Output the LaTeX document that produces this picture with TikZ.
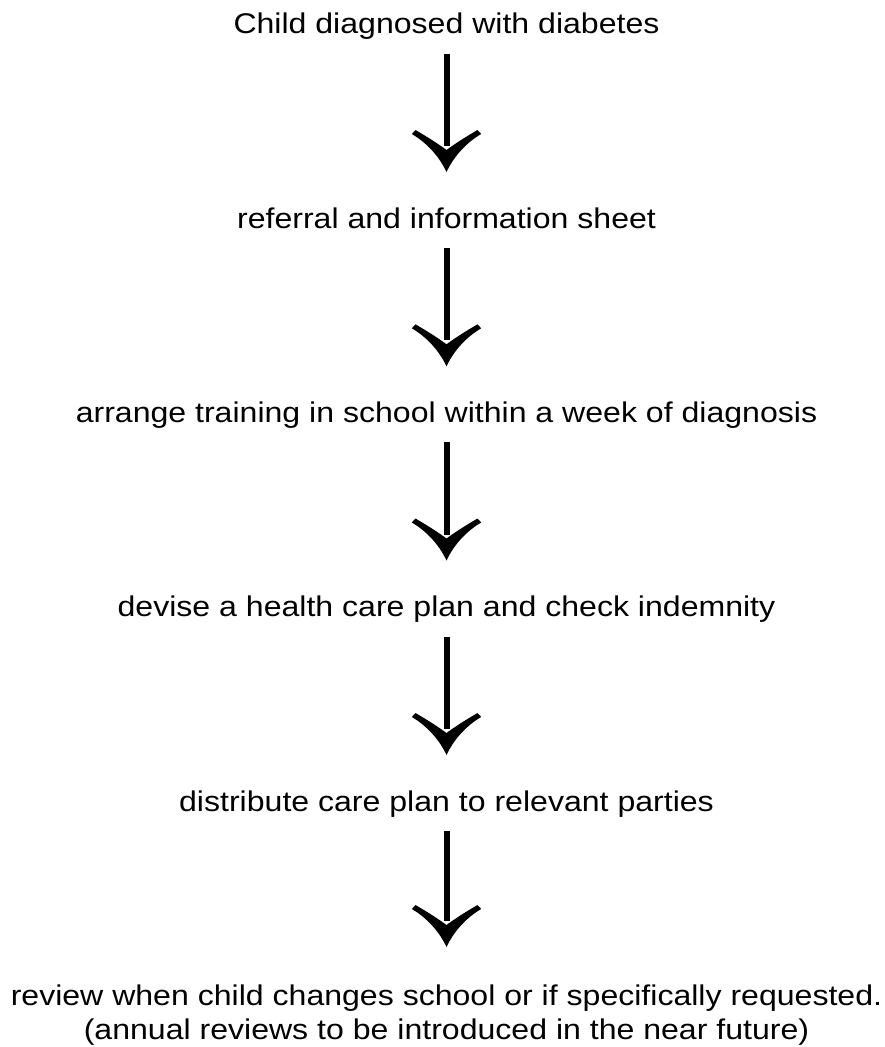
\documentclass[tikz,border=0pt]{standalone}
\usepackage{fontspec}
\setmainfont{Liberation Sans}
\usetikzlibrary{arrows.meta}
\pgfdeclarearrow{
  name=BarbHead,
  setup code={
    \pgfarrowssettipend{0pt}
    \pgfarrowssetbackend{-41.3pt}
    \pgfarrowssetlineend{-26pt}
    \pgfarrowsupperhullpoint{0pt}{0pt}
    \pgfarrowsupperhullpoint{-41.3pt}{34.7pt}
  },
  drawing code={
    \pgfpathmoveto{\pgfpointorigin}
    \pgfpathcurveto{\pgfpoint{-17pt}{8pt}}{\pgfpoint{-30pt}{21pt}}{\pgfpoint{-38pt}{34.7pt}}
    \pgfpathlineto{\pgfpoint{-42pt}{31pt}}
    \pgfpathcurveto{\pgfpoint{-35pt}{19pt}}{\pgfpoint{-28pt}{8pt}}{\pgfpoint{-22pt}{0pt}}
    \pgfpathcurveto{\pgfpoint{-28pt}{-8pt}}{\pgfpoint{-35pt}{-19pt}}{\pgfpoint{-42pt}{-31pt}}
    \pgfpathlineto{\pgfpoint{-38pt}{-34.7pt}}
    \pgfpathcurveto{\pgfpoint{-30pt}{-21pt}}{\pgfpoint{-17pt}{-8pt}}{\pgfpointorigin}
    \pgfpathclose
    \pgfusepathqfill
  }
}
\newcommand{\wl}[1]{\scalebox{1.125}[1]{#1}}
\begin{document}
\begin{tikzpicture}[x=1pt,y=1pt,
  lbl/.style={anchor=base, inner sep=0pt, font=\fontsize{28.5}{34}\selectfont, align=center},
  flow/.style={line width=6pt, -BarbHead}]
\useasboundingbox[fill=white] (0,0) rectangle (885,-1047);
\node[lbl] (t1) at (446.5,-33.5) {\wl{Child diagnosed with diabetes}};
\node[lbl] (t2) at (446.5,-228) {\wl{referral and information sheet}};
\node[lbl] (t3) at (446.5,-422.3) {\wl{arrange training in school within a week of diagnosis}};
\node[lbl] (t4) at (446.5,-616.5) {\wl{devise a health care plan and check indemnity}};
\node[lbl] (t5) at (446.5,-811) {\wl{distribute care plan to relevant parties}};
\node[lbl] (t6) at (446.5,-1039.5) {\wl{review when child changes school or if specifically requested.}\\\wl{(annual reviews to be introduced in the near future)}};
\draw[flow] ([yshift=-20]t1.base) -- ([yshift=56]t2.base);
\draw[flow] ([yshift=-20]t2.base) -- ([yshift=56]t3.base);
\draw[flow] ([yshift=-20]t3.base) -- ([yshift=56]t4.base);
\draw[flow] ([yshift=-20]t4.base) -- ([yshift=56]t5.base);
\draw[flow] ([yshift=-20]t5.base) -- ([yshift=92.5]t6.base);
\end{tikzpicture}
\end{document}
